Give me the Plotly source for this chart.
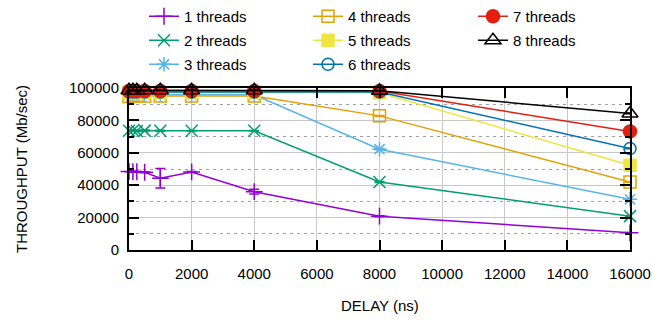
import plotly.graph_objects as go

delay = [0, 125, 250, 500, 1000, 2000, 4000, 8000, 16000]

thr1 = [48500, 48300, 48300, 48000, 44300, 48200, 36000, 20900, 10600]
thr1_err = [300, 300, 300, 300, 6000, 300, 1500, 300, 200]
thr2 = [73600, 73800, 73500, 73700, 73600, 73600, 73600, 42000, 20900]
thr2_err = [300, 300, 300, 300, 300, 200, 200, 300, 200]
thr3 = [96000, 96000, 96000, 96000, 96000, 96000, 95800, 62200, 31300]
thr3_err = [300, 300, 300, 300, 300, 200, 200, 300, 200]
thr4 = [94800, 95000, 95000, 95000, 95000, 95000, 95000, 82800, 42000]
thr4_err = [300, 300, 300, 300, 300, 200, 200, 300, 200]
thr5 = [97000, 97000, 97000, 97000, 97000, 97000, 97000, 97000, 52300]
thr5_err = [300, 300, 300, 300, 300, 200, 200, 200, 200]
thr6 = [97500, 97500, 97500, 97500, 97500, 97500, 97500, 97500, 62700]
thr6_err = [300, 300, 300, 300, 300, 200, 200, 200, 200]
thr7 = [98200, 98200, 98200, 98200, 98200, 98200, 98200, 98200, 73200]
thr7_err = [300, 300, 300, 300, 300, 200, 200, 200, 200]
thr8 = [98600, 98600, 98600, 98600, 98600, 98600, 98600, 98300, 84300]
thr8_err = [300, 300, 300, 300, 300, 200, 200, 200, 200]

names = ["1 threads", "2 threads", "3 threads", "4 threads",
         "5 threads", "6 threads", "7 threads", "8 threads"]
series = [thr1, thr2, thr3, thr4, thr5, thr6, thr7, thr8]
errors = [thr1_err, thr2_err, thr3_err, thr4_err, thr5_err, thr6_err, thr7_err, thr8_err]
colors = ["#9400d3", "#009e73", "#56b4e9", "#e69f00",
          "#f0e442", "#0072b2", "#e51e10", "#000000"]
symbols = ["cross-thin-open", "x-thin-open", "asterisk-open", "square-open",
           "square", "circle-open", "circle", "triangle-up-open"]
sizes = [12, 12, 12, 12, 12, 12, 13, 14]
legends = ["legend", "legend", "legend", "legend2", "legend2", "legend2", "legend3", "legend3"]

FONT = "Liberation Sans, Arial, sans-serif"

fig = go.Figure()
for i in range(8):
    fig.add_trace(go.Scatter(
        x=delay, y=series[i], name=names[i], mode="lines+markers",
        line=dict(color=colors[i], width=1.5),
        marker=dict(symbol=symbols[i], size=sizes[i], color=colors[i],
                    line=dict(color=colors[i], width=1.5)),
        error_y=dict(type="data", array=errors[i], visible=True,
                     color=colors[i], thickness=1.5, width=5),
        legend=legends[i], legendgroup=names[i], cliponaxis=False,
    ))

def leg(xpx):
    return dict(xref="container", yref="container", x=xpx / 652, y=1,
                xanchor="left", yanchor="top", bgcolor="rgba(0,0,0,0)",
                font=dict(family=FONT, size=15, color="#000"),
                traceorder="grouped", tracegroupgap=1.5, borderwidth=0)

fig.update_layout(
    width=652, height=322,
    margin=dict(l=129, r=22, t=88, b=72, autoexpand=False),
    paper_bgcolor="white", plot_bgcolor="white",
    font=dict(family=FONT, size=15, color="#000"),
    showlegend=True,
    legend=leg(144), legend2=leg(308), legend3=leg(473),
    annotations=[
        dict(text="DELAY (ns)", xref="paper", yref="paper", x=0.5, y=-55 / 162,
             xanchor="center", yanchor="middle", showarrow=False,
             font=dict(family=FONT, size=15, color="#000")),
        dict(text="THROUGHPUT (Mb/sec)", xref="paper", yref="paper", x=-108 / 501, y=0.5,
             xanchor="center", yanchor="middle", textangle=-90, showarrow=False,
             font=dict(family=FONT, size=15, color="#000")),
    ],
)

fig.update_xaxes(
    range=[0, 16000], dtick=2000, tick0=0, tickformat="d",
    showgrid=True, gridcolor="#c8c8c8", gridwidth=1,
    ticks="inside", ticklen=10, tickwidth=1.5, tickcolor="#000",
    showline=True, linecolor="#000", linewidth=2, mirror="ticks",
    zeroline=False, tickfont=dict(family=FONT, size=15, color="#000"),
    ticklabelstandoff=9,
)
fig.update_yaxes(
    range=[0, 100000], dtick=20000, tick0=0, tickformat="d",
    showgrid=True, gridcolor="#c8c8c8", gridwidth=1,
    ticks="inside", ticklen=10, tickwidth=1.5, tickcolor="#000",
    showline=True, linecolor="#000", linewidth=2, mirror="ticks",
    zeroline=False, tickfont=dict(family=FONT, size=15, color="#000"),
    ticklabelstandoff=5,
    minor=dict(dtick=10000, ticks="inside", ticklen=5, tickcolor="#000",
               showgrid=True, gridcolor="#a0a0a0", griddash="3px,4px", gridwidth=1),
)

fig.write_html("out.html")
